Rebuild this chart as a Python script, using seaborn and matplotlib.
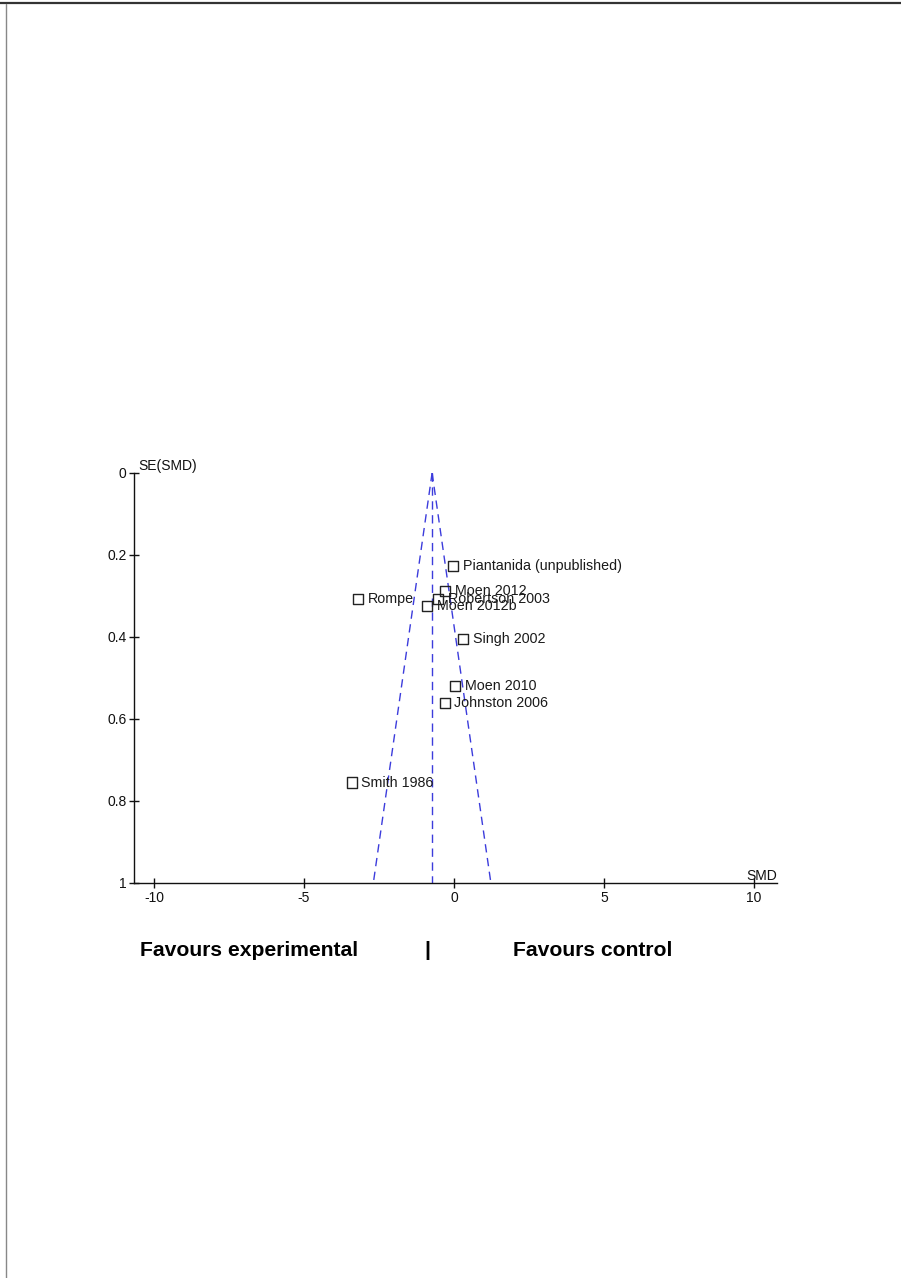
import numpy as np
import pandas as pd
import matplotlib
matplotlib.use("Agg")
import matplotlib.pyplot as plt
from matplotlib.lines import Line2D
import seaborn as sns

# study estimates
studies = ["Piantanida (unpublished)", "Moen 2012", "Robertson 2003", "Rompe",
           "Moen 2012b", "Singh 2002", "Moen 2010", "Johnston 2006", "Smith 1986"]
smd = [-0.03, -0.29, -0.54, -3.19, -0.89, 0.31, 0.04, -0.31, -3.41]
se = [0.227, 0.287, 0.307, 0.308, 0.324, 0.405, 0.519, 0.561, 0.755]
pooled = -0.73
x_ticks = [-10, -5, 0, 5, 10]
y_ticks = [0, 0.2, 0.4, 0.6, 0.8, 1]

df = pd.DataFrame({"study": studies, "SMD": smd, "SE": se})

sns.set_style("white")
plt.rcParams['font.family'] = ['Liberation Sans', 'DejaVu Sans']

W, H = 901, 1278
fig = plt.figure(figsize=(W / 100, H / 100), dpi=100)
ax = fig.add_axes([134 / W, (H - 883) / H, (777 - 134) / W, (883 - 473) / H])

# funnel (pseudo 95% limits) and pooled line
se_line = np.array([0, 1])
blue = '#3c3cdc'
ax.plot(pooled - 1.96 * se_line, se_line, color=blue, lw=1, ls=(0, (6, 4)))
ax.plot(pooled + 1.96 * se_line, se_line, color=blue, lw=1, ls=(0, (6, 4)))
ax.plot([pooled, pooled], se_line, color=blue, lw=1, ls=(0, (6, 4)))

sns.scatterplot(data=df, x="SMD", y="SE", marker='s', s=55, facecolor='none',
                edgecolor='#222222', linewidth=1, ax=ax, zorder=3)
for name, xv, yv in zip(studies, smd, se):
    ax.annotate(name, (xv, yv), xytext=(7, 0), textcoords='offset points',
                va='center', ha='left', fontsize=10.3, color='#1a1a1a')

ax.set_xlim(-10.67, 10.77)
ax.set_ylim(1, 0)
ax.set_xticks(x_ticks)
ax.set_xticklabels([str(t) for t in x_ticks])
ax.set_yticks(y_ticks)
ax.set_yticklabels(['0', '0.2', '0.4', '0.6', '0.8', '1'])
ax.tick_params(bottom=True, left=True, direction='inout', length=7.5, width=1,
               colors='#111111', labelsize=10, pad=1.5)
ax.tick_params(axis='x', pad=2)
ax.set_xlabel('')
ax.set_ylabel('')
for side in ['top', 'right']:
    ax.spines[side].set_visible(False)
for side in ['left', 'bottom']:
    ax.spines[side].set_color('#111111')
    ax.spines[side].set_linewidth(1)
ax.patch.set_alpha(0)

ax.text(0.006, 1.0, 'SE(SMD)', transform=ax.transAxes, fontsize=10,
        va='bottom', ha='left', color='#111111')
ax.text(1.0, 0.0, 'SMD', transform=ax.transAxes, fontsize=10,
        va='bottom', ha='right', color='#111111')

fig.text(140 / W, 1 - 951 / H, 'Favours experimental', fontsize=15.2,
         fontweight='bold', va='center', ha='left', color='black')
fig.text(427 / W, 1 - 951 / H, '|', fontsize=15.2, fontweight='bold',
         va='center', ha='center', color='black')
fig.text(513 / W, 1 - 951 / H, 'Favours control', fontsize=15.2,
         fontweight='bold', va='center', ha='left', color='black')

# page border
fig.add_artist(Line2D([0, 1], [1 - 2.5 / H, 1 - 2.5 / H], color='#333333', lw=1.6))
fig.add_artist(Line2D([5.5 / W, 5.5 / W], [0, 1 - 4 / H], color='#888888', lw=1))

fig.savefig('out.png', dpi=100)
